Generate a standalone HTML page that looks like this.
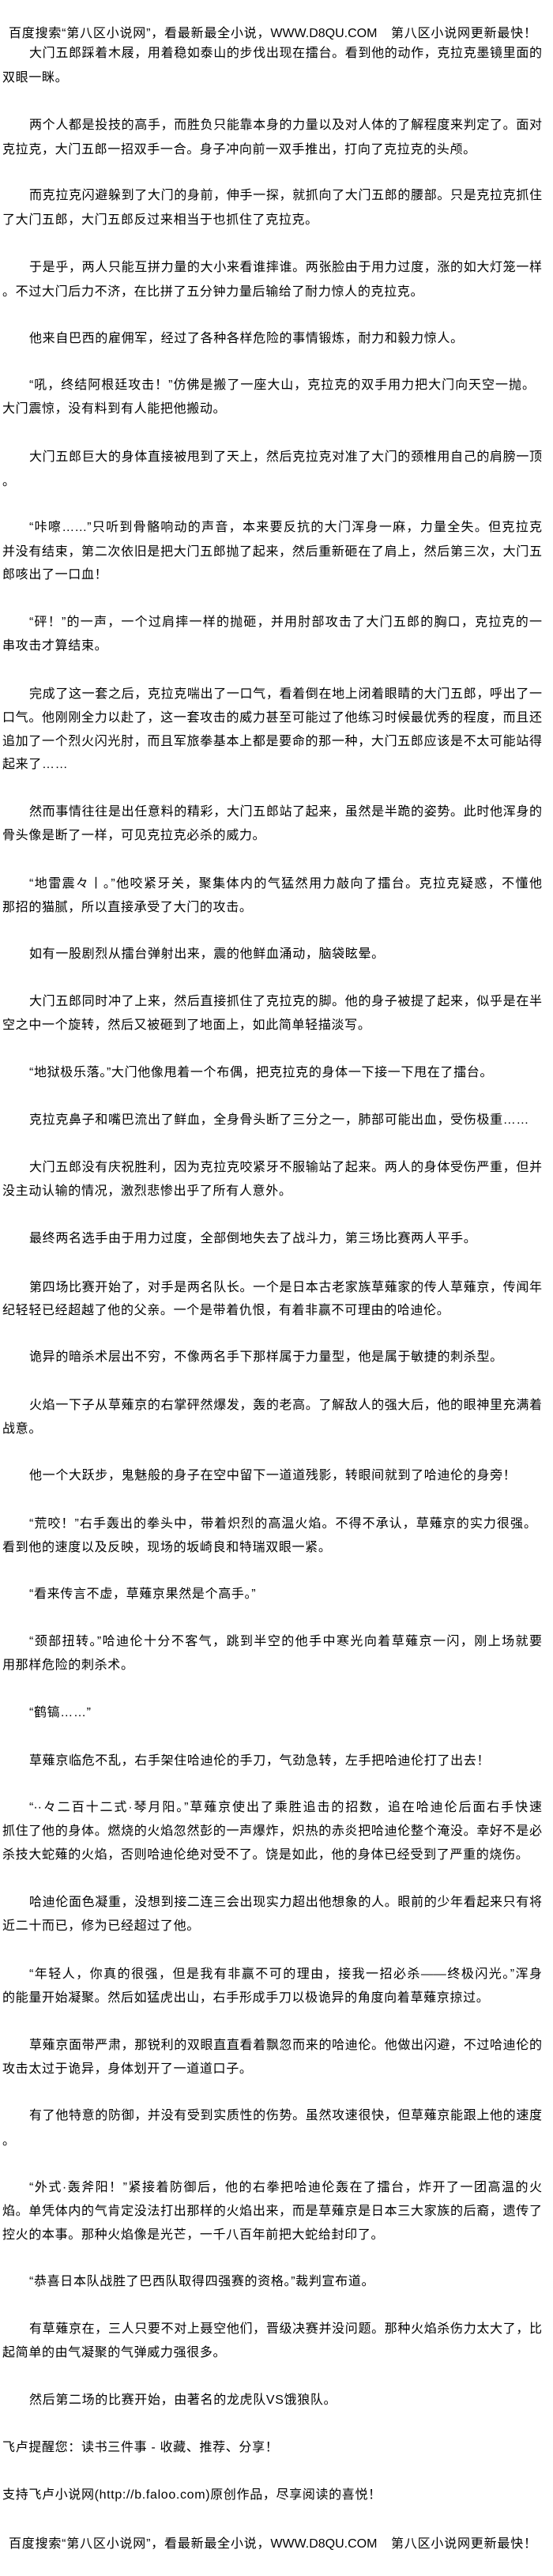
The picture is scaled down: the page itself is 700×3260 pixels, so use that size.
<!DOCTYPE html>
<html><head><meta charset="utf-8">
<style>
html,body{margin:0;padding:0;background:#fff;}
body{width:700px;height:3260px;position:relative;overflow:hidden;
font-family:"Liberation Sans","Noto Sans CJK SC",sans-serif;font-size:16px;color:#000;}
.l{position:absolute;height:30px;line-height:30px;white-space:nowrap;letter-spacing:0.66px;}
.f{position:absolute;height:30px;line-height:30px;white-space:nowrap;text-align:justify;text-align-last:justify;letter-spacing:0;}
.i{left:37px;}
.n{left:3px;}
.f.i{width:649px;}
.f.n{width:683px;}
.h{left:11px;width:668px;}
</style></head><body>
<div class="f h" style="top:28px">百度搜索“第八区小说网”，看最新最全小说，WWW.D8QU.COM　第八区小说网更新最快！</div>
<div class="f i" style="top:53px">大门五郎踩着木屐，用着稳如泰山的步伐出现在擂台。看到他的动作，克拉克墨镜里面的</div>
<div class="l n" style="top:84px">双眼一眯。</div>
<div class="f i" style="top:144px">两个人都是投技的高手，而胜负只能靠本身的力量以及对人体的了解程度来判定了。面对</div>
<div class="l n" style="top:175px">克拉克，大门五郎一招双手一合。身子冲向前一双手推出，打向了克拉克的头颅。</div>
<div class="f i" style="top:233px">而克拉克闪避躲到了大门的身前，伸手一探，就抓向了大门五郎的腰部。只是克拉克抓住</div>
<div class="l n" style="top:264px">了大门五郎，大门五郎反过来相当于也抓住了克拉克。</div>
<div class="f i" style="top:324px">于是乎，两人只能互拼力量的大小来看谁摔谁。两张脸由于用力过度，涨的如大灯笼一样</div>
<div class="l n" style="top:355px">。不过大门后力不济，在比拼了五分钟力量后输给了耐力惊人的克拉克。</div>
<div class="l i" style="top:414px">他来自巴西的雇佣军，经过了各种各样危险的事情锻炼，耐力和毅力惊人。</div>
<div class="f i" style="top:473px;width:640px">“吼，终结阿根廷攻击！”仿佛是搬了一座大山，克拉克的双手用力把大门向天空一抛。</div>
<div class="l n" style="top:503px">大门震惊，没有料到有人能把他搬动。</div>
<div class="f i" style="top:564px">大门五郎巨大的身体直接被甩到了天上，然后克拉克对准了大门的颈椎用自己的肩膀一顶</div>
<div class="l n" style="top:595px">。</div>
<div class="f i" style="top:653px">“咔嚓……”只听到骨骼响动的声音，本来要反抗的大门浑身一麻，力量全失。但克拉克</div>
<div class="f n" style="top:684px">并没有结束，第二次依旧是把大门五郎抛了起来，然后重新砸在了肩上，然后第三次，大门五</div>
<div class="l n" style="top:713px">郎咳出了一口血！</div>
<div class="f i" style="top:773px">“砰！”的一声，一个过肩摔一样的抛砸，并用肘部攻击了大门五郎的胸口，克拉克的一</div>
<div class="l n" style="top:803px">串攻击才算结束。</div>
<div class="f i" style="top:864px">完成了这一套之后，克拉克喘出了一口气，看着倒在地上闭着眼睛的大门五郎，呼出了一</div>
<div class="f n" style="top:894px">口气。他刚刚全力以赴了，这一套攻击的威力甚至可能过了他练习时候最优秀的程度，而且还</div>
<div class="f n" style="top:924px">追加了一个烈火闪光肘，而且军旅拳基本上都是要命的那一种，大门五郎应该是不太可能站得</div>
<div class="l n" style="top:953px">起来了……</div>
<div class="f i" style="top:1013px">然而事情往往是出任意料的精彩，大门五郎站了起来，虽然是半跪的姿势。此时他浑身的</div>
<div class="l n" style="top:1043px">骨头像是断了一样，可见克拉克必杀的威力。</div>
<div class="f i" style="top:1104px">“地雷震々丨。”他咬紧牙关，聚集体内的气猛然用力敲向了擂台。克拉克疑惑，不懂他</div>
<div class="l n" style="top:1134px">那招的猫腻，所以直接承受了大门的攻击。</div>
<div class="l i" style="top:1193px">如有一股剧烈从擂台弹射出来，震的他鲜血涌动，脑袋眩晕。</div>
<div class="f i" style="top:1253px">大门五郎同时冲了上来，然后直接抓住了克拉克的脚。他的身子被提了起来，似乎是在半</div>
<div class="l n" style="top:1283px">空之中一个旋转，然后又被砸到了地面上，如此简单轻描淡写。</div>
<div class="l i" style="top:1343px">“地狱极乐落。”大门他像甩着一个布偶，把克拉克的身体一下接一下甩在了擂台。</div>
<div class="l i" style="top:1403px">克拉克鼻子和嘴巴流出了鲜血，全身骨头断了三分之一，肺部可能出血，受伤极重……</div>
<div class="f i" style="top:1463px">大门五郎没有庆祝胜利，因为克拉克咬紧牙不服输站了起来。两人的身体受伤严重，但并</div>
<div class="l n" style="top:1493px">没主动认输的情况，激烈悲惨出乎了所有人意外。</div>
<div class="l i" style="top:1553px">最终两名选手由于用力过度，全部倒地失去了战斗力，第三场比赛两人平手。</div>
<div class="f i" style="top:1615px">第四场比赛开始了，对手是两名队长。一个是日本古老家族草薙家的传人草薙京，传闻年</div>
<div class="l n" style="top:1644px">纪轻轻已经超越了他的父亲。一个是带着仇恨，有着非赢不可理由的哈迪伦。</div>
<div class="l i" style="top:1703px">诡异的暗杀术层出不穷，不像两名手下那样属于力量型，他是属于敏捷的刺杀型。</div>
<div class="f i" style="top:1764px">火焰一下子从草薙京的右掌砰然爆发，轰的老高。了解敌人的强大后，他的眼神里充满着</div>
<div class="l n" style="top:1794px">战意。</div>
<div class="l i" style="top:1853px">他一个大跃步，鬼魅般的身子在空中留下一道道残影，转眼间就到了哈迪伦的身旁！</div>
<div class="f i" style="top:1914px;width:642px">“荒咬！”右手轰出的拳头中，带着炽烈的高温火焰。不得不承认，草薙京的实力很强。</div>
<div class="l n" style="top:1944px">看到他的速度以及反映，现场的坂崎良和特瑞双眼一紧。</div>
<div class="l i" style="top:2003px">“看来传言不虚，草薙京果然是个高手。”</div>
<div class="f i" style="top:2063px">“颈部扭转。”哈迪伦十分不客气，跳到半空的他手中寒光向着草薙京一闪，刚上场就要</div>
<div class="l n" style="top:2093px">用那样危险的刺杀术。</div>
<div class="l i" style="top:2153px">“鹤镐……”</div>
<div class="l i" style="top:2214px">草薙京临危不乱，右手架住哈迪伦的手刀，气劲急转，左手把哈迪伦打了出去！</div>
<div class="f i" style="top:2273px">“··々二百十二式·琴月阳。”草薙京使出了乘胜追击的招数，追在哈迪伦后面右手快速</div>
<div class="f n" style="top:2303px">抓住了他的身体。燃烧的火焰忽然彭的一声爆炸，炽热的赤炎把哈迪伦整个淹没。幸好不是必</div>
<div class="l n" style="top:2333px">杀技大蛇薙的火焰，否则哈迪伦绝对受不了。饶是如此，他的身体已经受到了严重的烧伤。</div>
<div class="f i" style="top:2393px">哈迪伦面色凝重，没想到接二连三会出现实力超出他想象的人。眼前的少年看起来只有将</div>
<div class="l n" style="top:2423px">近二十而已，修为已经超过了他。</div>
<div class="f i" style="top:2484px">“年轻人，你真的很强，但是我有非赢不可的理由，接我一招必杀——终极闪光。”浑身</div>
<div class="l n" style="top:2514px">的能量开始凝聚。然后如猛虎出山，右手形成手刀以极诡异的角度向着草薙京掠过。</div>
<div class="f i" style="top:2574px">草薙京面带严肃，那锐利的双眼直直看着飘忽而来的哈迪伦。他做出闪避，不过哈迪伦的</div>
<div class="l n" style="top:2604px">攻击太过于诡异，身体划开了一道道口子。</div>
<div class="f i" style="top:2663px">有了他特意的防御，并没有受到实质性的伤势。虽然攻速很快，但草薙京能跟上他的速度</div>
<div class="l n" style="top:2695px">。</div>
<div class="f i" style="top:2754px">“外式·轰斧阳！”紧接着防御后，他的右拳把哈迪伦轰在了擂台，炸开了一团高温的火</div>
<div class="f n" style="top:2784px">焰。单凭体内的气肯定没法打出那样的火焰出来，而是草薙京是日本三大家族的后裔，遗传了</div>
<div class="l n" style="top:2814px">控火的本事。那种火焰像是光芒，一千八百年前把大蛇给封印了。</div>
<div class="l i" style="top:2873px">“恭喜日本队战胜了巴西队取得四强赛的资格。”裁判宣布道。</div>
<div class="f i" style="top:2933px">有草薙京在，三人只要不对上聂空他们，晋级决赛并没问题。那种火焰杀伤力太大了，比</div>
<div class="l n" style="top:2963px">起简单的由气凝聚的气弹威力强很多。</div>
<div class="l i" style="top:3023px">然后第二场的比赛开始，由著名的龙虎队VS饿狼队。</div>
<div class="l n" style="top:3083px">飞卢提醒您：读书三件事 - 收藏、推荐、分享！</div>
<div class="l n" style="top:3143px">支持飞卢小说网(http://b.faloo.com)原创作品，尽享阅读的喜悦！</div>
<div class="f h" style="top:3205px">百度搜索“第八区小说网”，看最新最全小说，WWW.D8QU.COM　第八区小说网更新最快！</div>
</body></html>
